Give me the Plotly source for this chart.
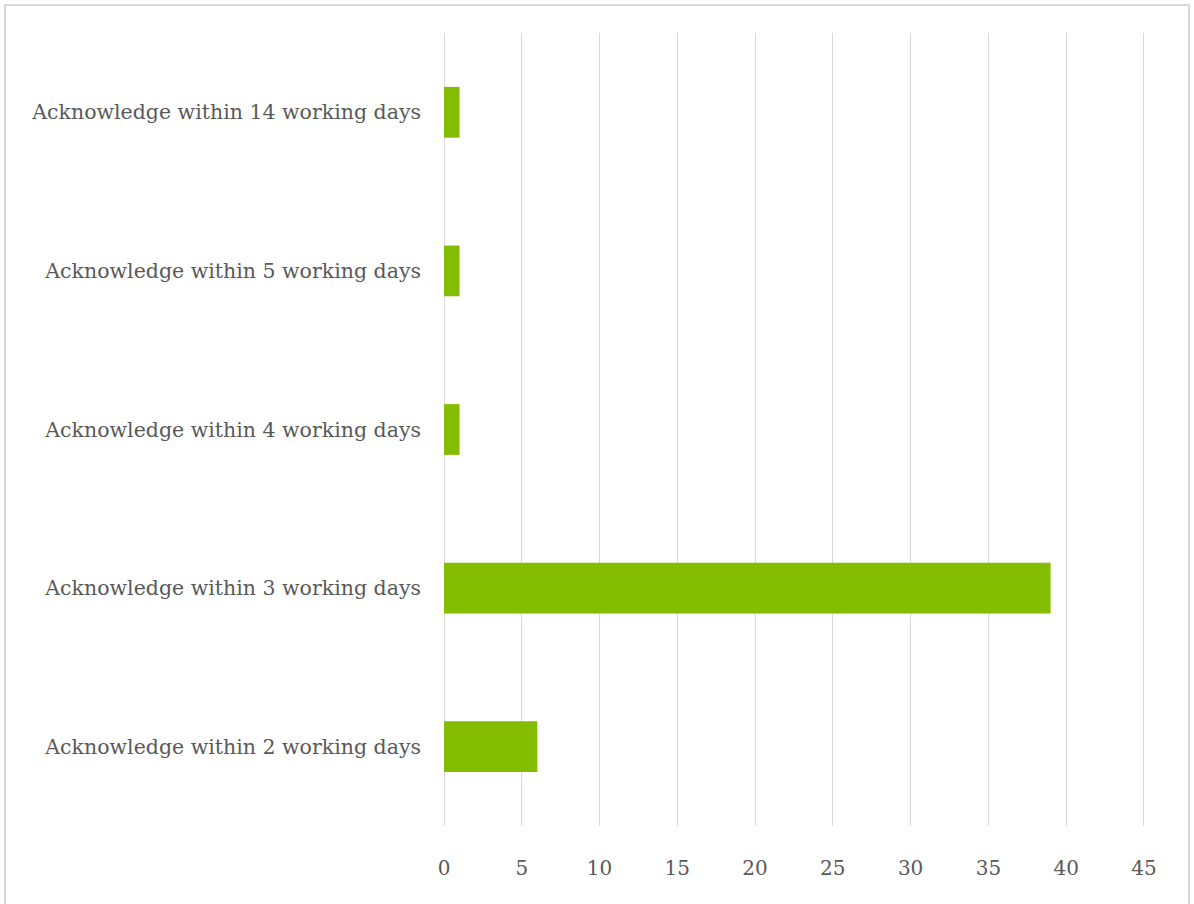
import plotly.graph_objects as go

categories = [
    "Acknowledge within 2 working days",
    "Acknowledge within 3 working days",
    "Acknowledge within 4 working days",
    "Acknowledge within 5 working days",
    "Acknowledge within 14 working days",
]
values = [6, 39, 1, 1, 1]
tick_values = [0, 5, 10, 15, 20, 25, 30, 35, 40, 45]

W, H = 1194, 904
L, R, T, B = 444, 49, 33, 78
pw, ph = W - L - R, H - T - B

fig = go.Figure(go.Bar(
    x=values, y=categories, orientation="h",
    marker=dict(color="#84BC00", line=dict(width=0)),
    width=0.32,
))

fig.update_layout(
    width=W, height=H,
    margin=dict(l=L, r=R, t=T, b=B, pad=0),
    paper_bgcolor="white", plot_bgcolor="white",
    showlegend=False,
    font=dict(family="DejaVu Serif", color="#595959", size=20),
    xaxis=dict(range=[0, 45.07], tickvals=tick_values, showgrid=True,
               gridcolor="#d9d9d9", gridwidth=1, zeroline=True,
               zerolinecolor="#d9d9d9", zerolinewidth=1, showline=False,
               ticks="", ticklabelstandoff=28, tickfont=dict(size=20)),
    yaxis=dict(showgrid=False, zeroline=False, showline=False, ticks="",
               ticklabelstandoff=22, tickfont=dict(size=20.5)),
    shapes=[dict(type="rect", xref="paper", yref="paper",
                 x0=(5 - L) / pw, x1=(1189 - L) / pw,
                 y0=-(910 - (T + ph)) / ph, y1=1 + (T - 5) / ph,
                 line=dict(color="#d9d9d9", width=2), layer="below")],
)

fig.write_html("out.html")
